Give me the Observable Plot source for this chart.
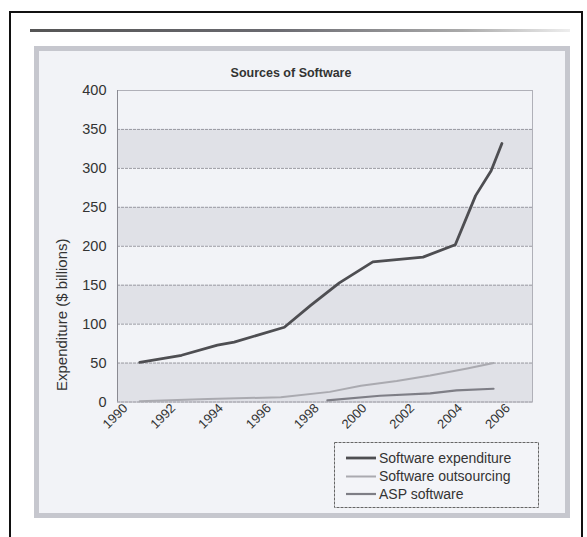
<!DOCTYPE html>
<html><head><meta charset="utf-8">
<script src="https://cdn.jsdelivr.net/npm/d3@7"></script>
<script src="https://cdn.jsdelivr.net/npm/@observablehq/plot@0.6"></script>
<style>
html,body{margin:0;padding:0;background:#fff;}
#wrap{position:relative;width:587px;height:537px;overflow:hidden;font-family:"Liberation Sans",Arial,sans-serif;}
.abs{position:absolute;}
</style></head><body>
<div id="wrap">
  <div class="abs" style="left:9px;top:11px;width:574px;height:600px;border:2px solid #111;border-bottom:none;box-sizing:border-box"></div>
  <div class="abs" style="left:30px;top:29px;width:540px;height:3px;background:linear-gradient(to right,#555,#6a6a70 45%,#aaa 80%,#eee)"></div>
  <div class="abs" style="left:34px;top:46px;width:536px;height:472px;border:5px solid #c6c7ce;background:#f2f3f7;box-sizing:border-box"></div>
  <div id="title" class="abs" style="left:191px;width:200px;top:66px;text-align:center;font-weight:bold;font-size:12.5px;color:#333"></div>
  <div id="chart" class="abs" style="left:0;top:0"></div>
  <div id="legend" class="abs" style="left:334px;top:442px"></div>
</div>
<script>
const titleText = "Sources of Software";
const yLabel = "Expenditure ($ billions)";
const seriesNames = ["Software expenditure", "Software outsourcing", "ASP software"];
const seriesColors = ["#4e4e52", "#aaaab0", "#7e7e86"];
const seriesWidths = [2.8, 2, 2.2];

const xTicks = [1990, 1992, 1994, 1996, 1998, 2000, 2002, 2004, 2006];
const yTicks = [0, 50, 100, 150, 200, 250, 300, 350, 400];

const expYears  = [1990.85, 1992.6, 1994.1, 1994.8, 1996.9, 1998, 1999.2, 2000.6, 2002.7, 2004.05, 2004.9, 2005.55, 2006];
const expValues = [51, 60, 73, 77, 96, 124, 153, 180, 186, 202, 265, 297, 332];

const outYears  = [1990.85, 1993.7, 1996.75, 1998.8, 2000.1, 2001.6, 2003, 2004.55, 2005.65];
const outValues = [1, 4, 6, 13, 21, 27, 34, 43, 50];

const aspYears  = [1998.7, 2000.9, 2003, 2004.1, 2005.65];
const aspValues = [2, 8, 11, 15, 17];

const data = [
  ...expYears.map((y, i) => ({series: seriesNames[0], year: y, value: expValues[i]})),
  ...outYears.map((y, i) => ({series: seriesNames[1], year: y, value: outValues[i]})),
  ...aspYears.map((y, i) => ({series: seriesNames[2], year: y, value: aspValues[i]}))
];

const bands = yTicks.slice(0, -1).filter((d, i) => i % 2 === 0).map(d => ({y1: d, y2: d + 50}));

document.getElementById("title").textContent = titleText;

const chart = Plot.plot({
  width: 587, height: 537,
  marginLeft: 117, marginRight: 55, marginTop: 90, marginBottom: 135.5,
  style: {background: "transparent", fontFamily: "'Liberation Sans', Arial, sans-serif", fontSize: "13px", color: "#333"},
  x: {domain: [1989.92, 2007.28]},
  y: {domain: [0, 400]},
  marks: [
    Plot.rect(bands, {y1: "y1", y2: "y2", fill: "#e0e1e7"}),
    Plot.gridY(yTicks, {stroke: "#9a9aa2", strokeOpacity: 1, strokeDasharray: "3,1"}),
    Plot.frame({stroke: "#b0b0b8"}),
    Plot.ruleX([1989.92], {stroke: "#8a8a92"}),
    Plot.axisY({ticks: yTicks, tickSize: 0, tickPadding: 11, label: null, fontSize: 14.5}),
    Plot.axisX({ticks: xTicks, tickFormat: d => String(d), tickRotate: -45, tickSize: 0, tickPadding: 4, dx: 6, label: null, fontSize: 13}),
    ...seriesNames.map((s, i) => Plot.line(data.filter(d => d.series === s), {x: "year", y: "value", stroke: seriesColors[i], strokeWidth: seriesWidths[i]})),
    Plot.text([{label: yLabel, y: 112}], {frameAnchor: "left", y: "y", text: "label", textAnchor: "middle", dx: -55, rotate: -90, fontSize: 15, fill: "#333"})
  ]
});
document.getElementById("chart").appendChild(chart);

// legend
const lg = d3.select("#legend").append("svg").attr("width", 205).attr("height", 66)
  .style("font-family", "'Liberation Sans', Arial, sans-serif");
lg.append("rect").attr("x", 0.5).attr("y", 0.5).attr("width", 204).attr("height", 65)
  .attr("fill", "#f3f4f8").attr("stroke", "#666").attr("stroke-dasharray", "3,1");
const rowY = [16, 34.5, 52];
seriesNames.forEach((s, i) => {
  lg.append("line").attr("x1", 12).attr("x2", 42).attr("y1", rowY[i]).attr("y2", rowY[i])
    .attr("stroke", seriesColors[i]).attr("stroke-width", seriesWidths[i]);
  lg.append("text").attr("x", 45).attr("y", rowY[i]).attr("dy", "0.35em")
    .attr("font-size", 14).attr("fill", "#333").text(s);
});
</script>
</body></html>
